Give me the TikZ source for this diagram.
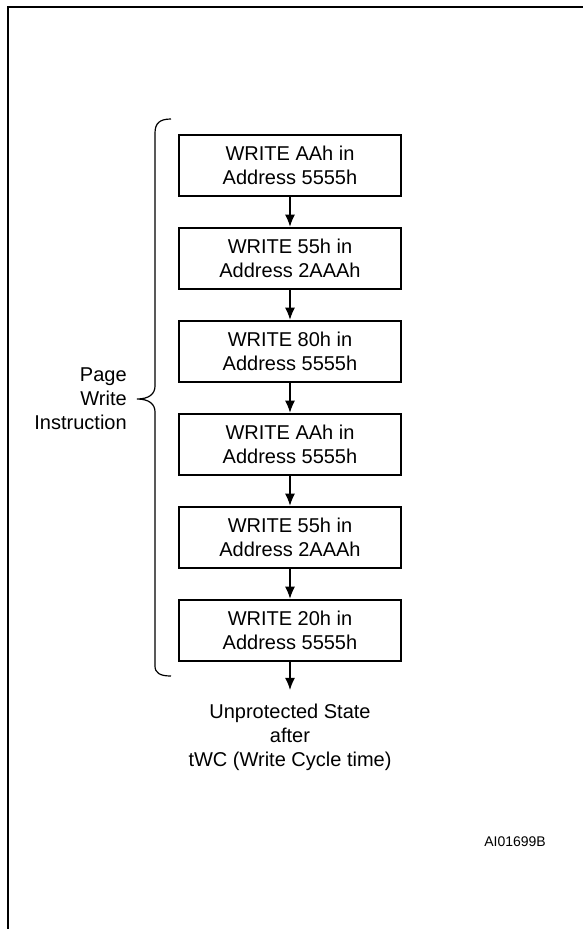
\documentclass[tikz,border=0pt]{standalone}
\usepackage{fontspec}
\setmainfont{Liberation Sans}
\usetikzlibrary{arrows.meta}

\begin{document}
\begin{tikzpicture}[x=1pt,y=-1pt,
  every path/.style={>={Latex[length=12pt,width=10pt]}},
  every node/.style={draw,rectangle,line width=2.6pt,minimum width=222pt,minimum height=61pt,
    inner sep=0pt,align=center,font=\fontsize{20}{24}\selectfont},
  txt/.style={draw=none,minimum width=0pt,minimum height=0pt},
  link/.style={->,line width=1.2pt}]
\useasboundingbox (0,0) rectangle (583,929);
\draw[line width=2.6pt] (8,929) -- (8,7) -- (583,7);
\node            (w1) at (290,165.5) { WRITE AAh in\\Address 5555h };
\node            (w2) at (290,258.5) { WRITE 55h in\\Address 2AAAh };
\node            (w3) at (290,351.5) { WRITE 80h in\\Address 5555h };
\node            (w4) at (290,444.5) { WRITE AAh in\\Address 5555h };
\node            (w5) at (290,537.5) { WRITE 55h in\\Address 2AAAh };
\node            (w6) at (290,630.5) { WRITE 20h in\\Address 5555h };
\node[txt,inner ysep=12.5pt] (state) at (290,737) { Unprotected State\\after\\tWC (Write Cycle time) };
\node[txt,anchor=east,align=right] (pwi) at (128,399) { Page\\Write\\Instruction };
\node[txt,font=\fontsize{14}{17}\selectfont] (ai) at (517,842) { AI01699B };
\draw[link]           (w1) edge (w2);
\draw[link]           (w2) edge (w3);
\draw[link]           (w3) edge (w4);
\draw[link]           (w4) edge (w5);
\draw[link]           (w5) edge (w6);
\draw[link]           (w6) edge (state);
\draw[line width=1.2pt] (171,119) .. controls (160,119) and (155,123) .. (155,133) -- (155,386)
      .. controls (155,394) and (149,399) .. (137,399)
      .. controls (149,399) and (155,404) .. (155,412) -- (155,666)
      .. controls (155,673) and (160,676) .. (171,676);
\end{tikzpicture}
\end{document}
